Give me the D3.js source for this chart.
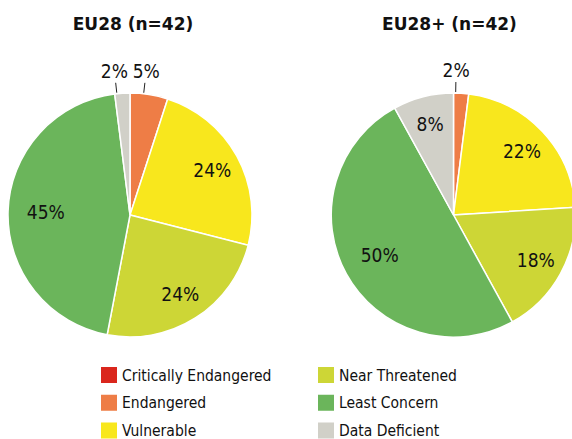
<!DOCTYPE html>
<html>
<head>
<meta charset="utf-8">
<script src="https://cdn.jsdelivr.net/npm/d3@7"></script>
<style>
  body { margin: 0; background: #fff; }
  svg text { font-family: "DejaVu Sans Condensed", "DejaVu Sans", sans-serif; fill: #111; }
  .title { font-family: "DejaVu Sans", sans-serif; font-weight: bold; font-size: 17px; }
  .lbl { font-size: 19px; }
  .leg { font-size: 15.5px; }
</style>
</head>
<body>
<svg id="chart" width="572" height="439"></svg>
<script>
/*  Data  */
const categories = ["Critically Endangered", "Endangered", "Vulnerable",
                    "Near Threatened", "Least Concern", "Data Deficient"];
const colors     = ["#da261d", "#ee7d46", "#f8e71d", "#cdd636", "#6bb55b", "#d1d0c8"];
const titles     = ["EU28 (n=42)", "EU28+ (n=42)"];
const eu28       = [0, 5, 24, 24, 45, 2];   // %
const eu28plus   = [0, 2, 22, 18, 50, 8];   // %

/*  Dimensions  */
const radius = 122;
const centers = [[130, 215], [453.5, 215]];

const svg = d3.select("#chart");
const color = d3.scaleOrdinal().domain(categories).range(colors);

const pie = d3.pie().sort(null).value(d => d.value);
const arc = d3.arc().innerRadius(0).outerRadius(radius);
// label radius shrinks a bit for the big slices (as the original does)
const labelR = d => d.data.value > 40 ? radius * 0.69 : radius * 0.77;
const midAngle = d => (d.startAngle + d.endAngle) / 2;
const outAngle = d => midAngle(d) - 0.045;   // outside labels nudged ccw
const isOut = d => (d.endAngle - d.startAngle) < 0.35;

[eu28, eu28plus].forEach((values, i) => {
  const data = categories.map((c, j) => ({cat: c, value: values[j]}));
  const g = svg.append("g")
    .attr("transform", `translate(${centers[i][0]},${centers[i][1]})`);

  g.append("text")
    .attr("class", "title")
    .attr("x", i === 0 ? 3 : -4)
    .attr("y", -185)
    .attr("text-anchor", "middle")
    .text(titles[i]);

  const arcs = pie(data).filter(d => d.data.value > 0);

  g.selectAll("path.slice")
    .data(arcs)
    .join("path")
    .attr("class", "slice")
    .attr("d", arc)
    .attr("fill", d => color(d.data.cat))
    .attr("stroke", "#fff")
    .attr("stroke-width", 1.5);

  g.selectAll("text.lbl")
    .data(arcs)
    .join("text")
    .attr("class", "lbl")
    .attr("transform", d => {
      const [x, y] = isOut(d)
        ? d3.pointRadial(outAngle(d), radius + 23)
        : d3.pointRadial(midAngle(d), labelR(d));
      return `translate(${x},${y})`;
    })
    .attr("text-anchor", "middle")
    .attr("dy", "0.36em")
    .text(d => d.data.value + "%");

  g.selectAll("line.leader")
    .data(arcs.filter(isOut))
    .join("line")
    .attr("class", "leader")
    .attr("stroke", "#222")
    .attr("stroke-width", 1)
    .attr("x1", d => d3.pointRadial(outAngle(d), radius + 1)[0])
    .attr("y1", d => d3.pointRadial(outAngle(d), radius + 1)[1])
    .attr("x2", d => d3.pointRadial(outAngle(d), radius + 11)[0])
    .attr("y2", d => d3.pointRadial(outAngle(d), radius + 11)[1]);
});

/*  Legend  */
const colX = d3.scaleOrdinal().domain([0, 1]).range([101, 318]);
const rowY = d3.scalePoint().domain([0, 1, 2]).range([375, 430.5]);

const leg = svg.selectAll("g.legend")
  .data(categories)
  .join("g")
  .attr("class", "legend")
  .attr("transform", (d, k) => `translate(${colX(Math.floor(k / 3))},${rowY(k % 3)})`);

leg.append("rect")
  .attr("x", 0)
  .attr("y", -8)
  .attr("width", 16)
  .attr("height", 16)
  .attr("fill", d => color(d));

leg.append("text")
  .attr("class", "leg")
  .attr("x", 21)
  .attr("dy", "0.36em")
  .text(d => d);
</script>
</body>
</html>
